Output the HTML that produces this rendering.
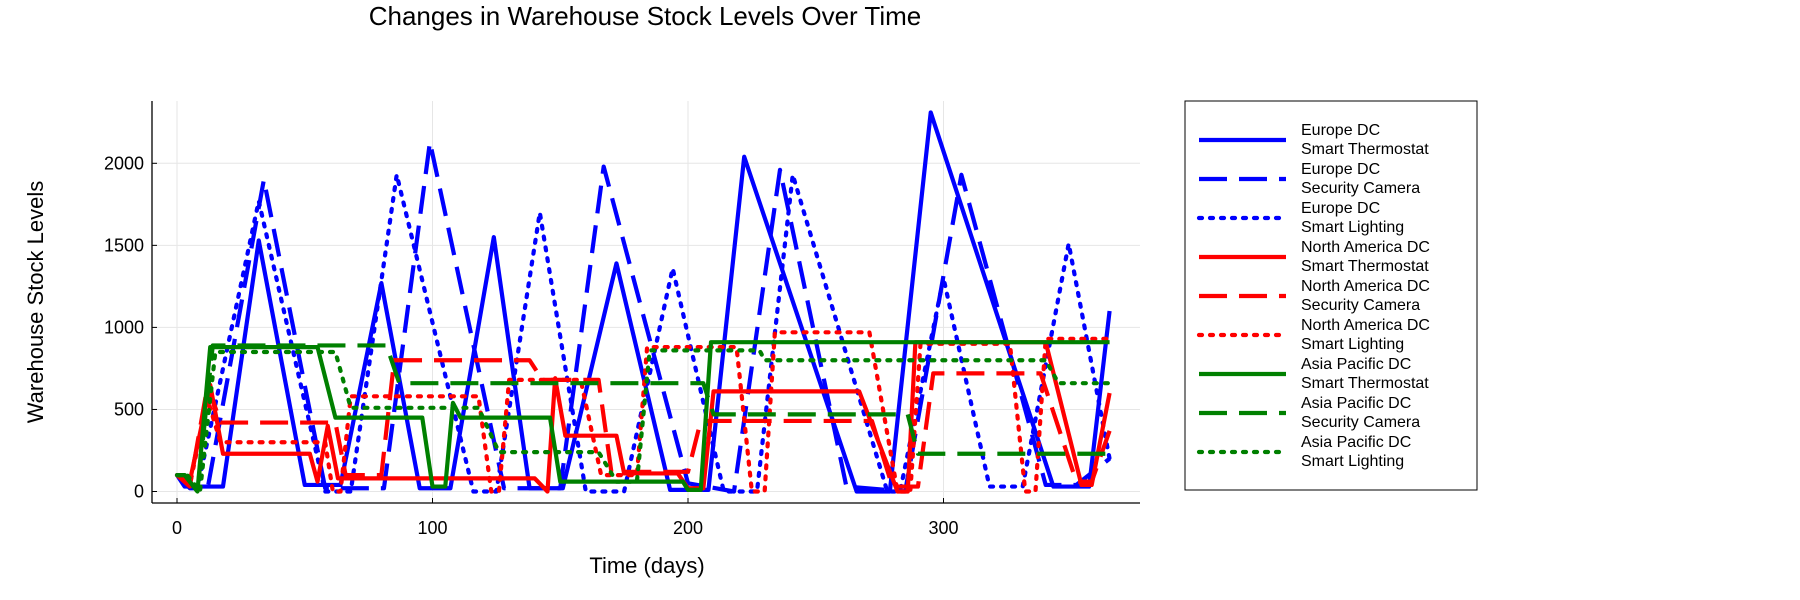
<!DOCTYPE html>
<html><head><meta charset="utf-8"><style>
html,body{margin:0;padding:0;background:#fff;}
svg{display:block;font-family:"Liberation Sans","DejaVu Sans",sans-serif;}
</style></head><body>
<svg id="chart" width="1800" height="600">
<text x="645" y="25" text-anchor="middle" font-size="26" fill="#000">Changes in Warehouse Stock Levels Over Time</text>
<g id="grid"></g>
<g id="series"></g>
<g id="axes"></g>
<text x="647" y="573" text-anchor="middle" font-size="22">Time (days)</text>
<text transform="translate(43,302) rotate(-90)" text-anchor="middle" font-size="22">Warehouse Stock Levels</text>
<g id="legend"></g>
</svg>
<script>
const xTicks = [0, 100, 200, 300];
const yTicks = [0, 500, 1000, 1500, 2000];
const seriesNames = [
 ["Europe DC","Smart Thermostat"],["Europe DC","Security Camera"],["Europe DC","Smart Lighting"],
 ["North America DC","Smart Thermostat"],["North America DC","Security Camera"],["North America DC","Smart Lighting"],
 ["Asia Pacific DC","Smart Thermostat"],["Asia Pacific DC","Security Camera"],["Asia Pacific DC","Smart Lighting"]];
const euThermostat = [[0,100],[3,30],[18,30],[32,1530],[50,40],[64,40],[80,1270],[95,20],[107,20],[124,1550],[138,20],[151,20],[172,1390],[193,10],[208,10],[222,2040],[266,0],[279,0],[295,2310],[343,30],[357,30],[365,1100]];
const euCamera = [[0,100],[5,20],[12,20],[34,1900],[58,20],[81,20],[99,2130],[128,20],[150,20],[167,1980],[200,50],[218,0],[236,1960],[262,30],[285,0],[307,1930],[340,40],[352,40],[365,200]];
const euLighting = [[0,100],[8,20],[32,1770],[58,0],[68,0],[86,1930],[116,0],[125,0],[142,1700],[160,0],[175,0],[194,1360],[214,0],[227,0],[241,1930],[278,0],[283,0],[300,1300],[318,30],[331,30],[349,1510],[365,200]];
const naThermostat = [[0,100],[5,60],[13,650],[18,230],[52,230],[55,60],[59,400],[63,80],[140,80],[145,0],[148,690],[152,340],[172,340],[175,110],[196,110],[200,20],[206,20],[210,610],[267,610],[282,0],[286,0],[289,910],[340,910],[354,40],[358,40],[365,600]];
const naCamera = [[0,100],[5,30],[12,650],[17,420],[62,420],[66,100],[80,100],[85,800],[138,800],[143,680],[165,680],[170,120],[200,120],[205,430],[272,430],[280,30],[290,30],[296,720],[338,720],[352,60],[358,60],[365,370]];
const naLighting = [[0,100],[5,40],[12,560],[17,300],[58,300],[61,0],[64,0],[68,580],[118,580],[123,0],[126,0],[130,680],[158,680],[166,100],[180,100],[184,880],[219,880],[225,0],[230,0],[234,970],[271,970],[282,0],[287,0],[291,900],[326,900],[332,0],[336,0],[340,930],[365,930]];
const apThermostat = [[0,100],[3,100],[8,0],[13,880],[55,880],[62,450],[96,450],[100,30],[105,30],[108,540],[111,450],[146,450],[150,60],[198,60],[200,10],[205,10],[209,910],[365,910]];
const apCamera = [[0,100],[3,100],[8,0],[14,890],[82,890],[87,660],[206,660],[210,470],[286,470],[290,230],[365,230]];
const apLighting = [[0,100],[4,100],[9,0],[15,850],[62,850],[68,510],[118,510],[126,240],[165,240],[172,60],[180,60],[185,860],[228,860],[230,800],[340,800],[345,660],[365,660]];

const NS="http://www.w3.org/2000/svg";
const L=152,R=1140,T=101,B=503;
function xs(d){return 177+2.555*d;}
function ys(v){return 491.5-0.1641*v;}
function mk(tag,attrs,parent){const e=document.createElementNS(NS,tag);for(const k in attrs)e.setAttribute(k,attrs[k]);parent.appendChild(e);return e;}
const grid=document.getElementById('grid'),axes=document.getElementById('axes'),ser=document.getElementById('series'),leg=document.getElementById('legend');
xTicks.forEach(t=>{
 const g=mk('line',{x1:xs(t),x2:xs(t),y1:T,y2:B,stroke:'#e6e6e6','stroke-width':1},grid);
 
 
 mk('line',{x1:xs(t),x2:xs(t),y1:B,y2:B-5,stroke:'#000','stroke-width':1},axes);
 const tx=mk('text',{x:xs(t),y:B+31,'text-anchor':'middle','font-size':18},axes);
 tx.textContent=t;
 
 
});
yTicks.forEach(t=>{
 const g=mk('line',{x1:L,x2:R,y1:ys(t),y2:ys(t),stroke:'#e6e6e6','stroke-width':1},grid);
 
 
 mk('line',{x1:L,x2:L+5,y1:ys(t),y2:ys(t),stroke:'#000','stroke-width':1},axes);
 const tx=mk('text',{x:L-8,y:ys(t)+6,'text-anchor':'end','font-size':18},axes);
 tx.textContent=t;
 
 
});
mk('line',{x1:L,x2:L,y1:T,y2:B,stroke:'#000','stroke-width':1.3},axes);
mk('line',{x1:L,x2:R,y1:B,y2:B,stroke:'#000','stroke-width':1.3},axes);
const allSeries=[euThermostat,euCamera,euLighting,naThermostat,naCamera,naLighting,apThermostat,apCamera,apLighting];
const colors=['#0000ff','#0000ff','#0000ff','#ff0000','#ff0000','#ff0000','#008000','#008000','#008000'];
const dashes=['none','28,12','3,8','none','28,12','3,8','none','28,12','3,8'];
const caps=['butt','butt','round','butt','butt','round','butt','butt','round'];
const slugs=['europe-thermostat','europe-camera','europe-lighting','na-thermostat','na-camera','na-lighting','ap-thermostat','ap-camera','ap-lighting'];
allSeries.forEach((s,i)=>{
 const p=mk('polyline',{points:s.map(q=>xs(q[0])+','+ys(q[1])).join(' '),fill:'none',stroke:colors[i],'stroke-width':4.2,'stroke-dasharray':dashes[i],'stroke-linecap':caps[i],'stroke-linejoin':'round'},ser);
 
 
});
const box=mk('rect',{x:1185,y:101,width:292,height:389,fill:'#fff',stroke:'#000','stroke-width':1},leg);


seriesNames.forEach((n,i)=>{
 const y=140+i*39;
 const g=mk('g',{},leg);
 
 
 mk('line',{x1:1199,x2:1286,y1:y,y2:y,stroke:colors[i],'stroke-width':4.2,'stroke-dasharray':dashes[i],'stroke-linecap':caps[i]},g);
 const t1=mk('text',{x:1301,y:y-5,'font-size':16},g);t1.textContent=n[0];
 const t2=mk('text',{x:1301,y:y+14,'font-size':16},g);t2.textContent=n[1];
});
</script>
</body></html>
